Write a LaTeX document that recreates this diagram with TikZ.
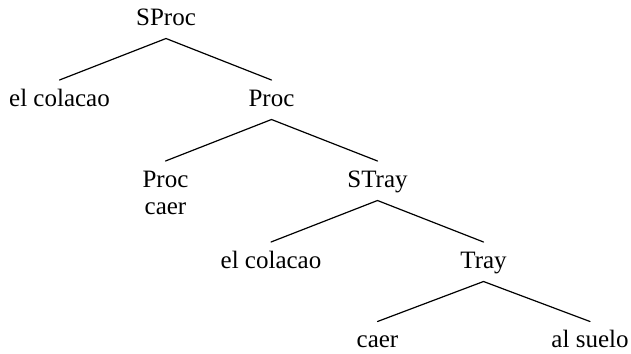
\documentclass[tikz,border=0pt]{standalone}
\usepackage{fontspec}
\setmainfont{Liberation Serif}
\begin{document}
\begin{tikzpicture}[x=1bp,y=-1bp,
  lbl/.style={inner sep=0pt,outer sep=0pt,anchor=base,font=\fontsize{25bp}{27.5bp}\selectfont},
  branch/.style={line width=1.2bp,line cap=round}]
\useasboundingbox (0,0) rectangle (631,353);
% tree labels, placed on their baselines
\node[lbl] (sproc) at (166,25) {SProc};
\node[lbl] (col1) at (59.5,106) {el colacao};
\node[lbl] (proc) at (271.5,106) {Proc};
\node[lbl] (pcaer) at (165.5,187) {\vtop{\baselineskip=27.5bp\halign{\hfil#\hfil\cr Proc\cr caer\cr}}};
\node[lbl] (stray) at (377.5,187) {STray};
\node[lbl] (col2) at (271,268) {el colacao};
\node[lbl] (tray) at (483.5,268) {Tray};
\node[lbl] (caer) at (377.5,347.5) {caer};
\node[lbl] (suelo) at (590,347.5) {al suelo};
% branches: from below the parent to above each child
\foreach \p/\c in {sproc/col1,sproc/proc,proc/pcaer,proc/stray,stray/col2,stray/tray,tray/caer,tray/suelo}
  \draw[branch] ([yshift=-13.5bp]\p.base) -- ([yshift=26bp]\c.base);
\end{tikzpicture}
\end{document}
